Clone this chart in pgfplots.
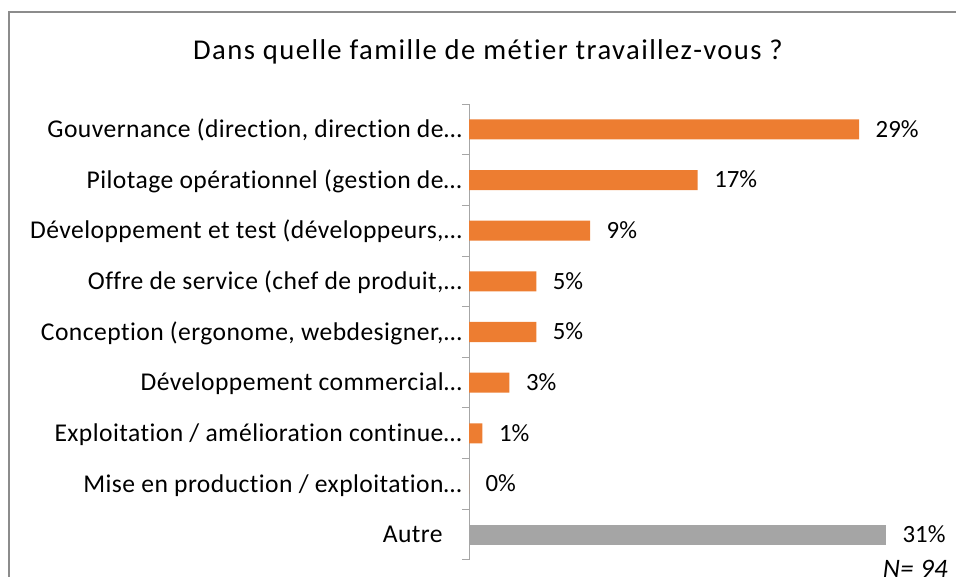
\documentclass[border=0pt]{standalone}
\usepackage{fontspec}
\setmainfont{Carlito}
\newfontfamily\labelfont[LetterSpace=1.7,Ligatures=NoCommon]{Carlito}
\newfontfamily\titlefont[LetterSpace=4.9,Ligatures=NoCommon]{Carlito}
\usepackage{pgfplots}
\pgfplotsset{compat=1.18}
\definecolor{barorange}{HTML}{ED7D31}
\definecolor{bargray}{HTML}{A5A5A5}
\definecolor{axgray}{HTML}{A6A6A6}
\definecolor{framegray}{HTML}{8C8C8C}
\begin{document}
\begin{tikzpicture}[x=0.75pt,y=0.75pt]
\useasboundingbox (0,0) rectangle (956,577);
\begin{scope}
\clip (0,0) rectangle (956,577);
\draw[framegray, line width=1.1pt] (9,-20) -- (9,565) -- (980,565);
\end{scope}
\node[font=\titlefont\fontsize{21.5}{26}\selectfont, anchor=base, inner sep=0pt] at (488,517) {Dans quelle famille de métier travaillez-vous ?};
\begin{axis}[
  at={(351.75pt,12.75pt)}, anchor=south west,
  scale only axis, width=353.06pt, height=342pt,
  xmin=0, xmax=35, ymin=-0.5, ymax=8.5,
  clip=false,
  /pgf/number format/assume math mode=true,
  axis x line=none,
  axis y line=left,
  y axis line style={-, axgray, line width=0.75pt},
  ytick={0,...,8},
  yticklabels={Autre\hspace*{14.25pt},
    Mise en production / exploitation…,
    Exploitation / amélioration continue…,
    Développement commercial…,
    {Conception (ergonome, webdesigner,…},
    {Offre de service (chef de produit,…},
    {Développement et test (développeurs,…},
    Pilotage opérationnel (gestion de…,
    {Gouvernance (direction, direction de…}},
  major tick length=0pt,
  ytick pos=left,
  yticklabel style={font=\labelfont\fontsize{19.2}{23}\selectfont, anchor=base east, inner sep=0pt, xshift=-5.25pt, yshift=-6.1pt},
  extra y ticks={-0.5,0.5,1.5,2.5,3.5,4.5,5.5,6.5,7.5,8.5},
  extra y tick labels={},
  extra y tick style={major tick length=5.25pt, tick align=outside, tick style={axgray, line width=0.75pt}},
  xbar, bar width=15pt, bar shift=0pt,
  nodes near coords={\pgfmathprintnumber[fixed,precision=0]{\pgfplotspointmeta}\%},
  nodes near coords style={font=\fontsize{18.6}{22}\selectfont, anchor=base west, inner sep=0pt, xshift=12.3pt, yshift=-5.9pt, text=black},
]
\addplot[fill=barorange, draw=none] coordinates {
  (0,1) (1,2) (3,3) (5,4) (5,5) (9,6) (17,7) (29,8)};
\addplot[fill=bargray, draw=none] coordinates {(31,0)};
\end{axis}
\node[font=\labelfont\fontsize{20}{24}\selectfont\itshape, anchor=base east, inner sep=0pt] at (948,-0.5) {N= 94};
\end{tikzpicture}
\end{document}
